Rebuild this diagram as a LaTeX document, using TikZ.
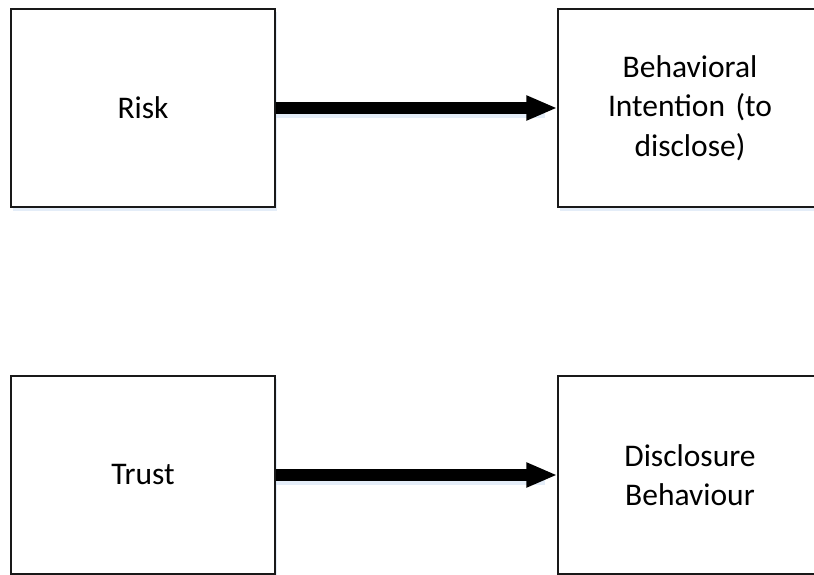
\documentclass[tikz,border=0pt]{standalone}
\usepackage{fontspec}
\setmainfont{Carlito}
\usetikzlibrary{arrows.meta}
\tikzset{
  blk/.style={draw=black!90, line width=1.3pt, fill=white, minimum width=264pt, minimum height=198pt,
    inner sep=0pt, align=center, text width=240pt, font=\fontsize{31.5}{39.5}\selectfont},
  shd/.style={fill={rgb,255:red,205;green,222;blue,242}, opacity=0.55},
  bigarrow/.style={line width=12pt, -{Triangle[length=31pt,width=23pt]}, black}
}
\begin{document}
\begin{tikzpicture}[x=1pt,y=-1pt]
\useasboundingbox (0,0) rectangle (814,575);
\clip (0,0) rectangle (814,575);
% shadows
\foreach \cx/\cy in {143/108, 690/108, 143/475, 690/475}{
  \fill[shd] (\cx-132+2,\cy-99+3) rectangle (\cx+132+2,\cy+99+4);
}
\fill[shd] (275,104) rectangle (545,118);
\fill[shd] (275,471) rectangle (545,485);
\node[blk] (risk) at (143,108) {Risk};
\node[blk] (bi) at (690,108) {Behavioral\\Intention (to\\disclose)};
\node[blk] (trust) at (143,475) {Trust};
\node[blk] (db) at (690,475) {Disclosure\\Behaviour};
\draw[bigarrow] (risk.east) -- (bi.west);
\draw[bigarrow] (trust.east) -- (db.west);
\end{tikzpicture}
\end{document}
